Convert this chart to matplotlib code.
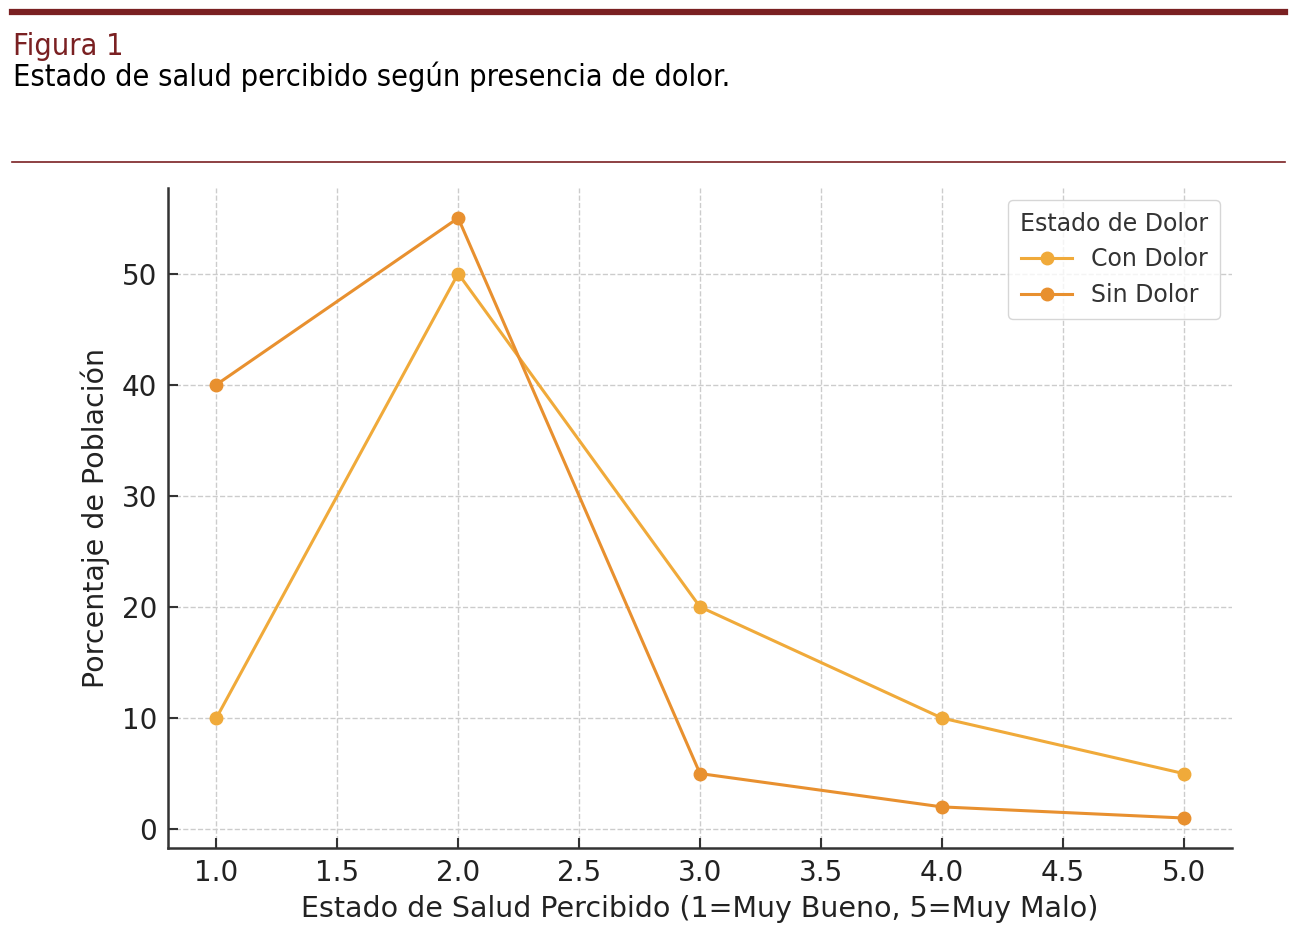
import matplotlib
matplotlib.use("Agg")
import matplotlib.pyplot as plt
from matplotlib.lines import Line2D

# datos
salud = [1, 2, 3, 4, 5]
con_dolor = [10, 50, 20, 10, 5]
sin_dolor = [40, 55, 5, 2, 1]

color_con = "#F0AA3A"
color_sin = "#E8902F"
rojo = "#7A2022"

plt.rcParams['font.family'] = ['DejaVu Sans']

fig = plt.figure(figsize=(12.96, 9.48), dpi=100)

# cabecera
fig.add_artist(Line2D([12/1296, 1285/1296], [1 - 11.5/948, 1 - 11.5/948],
                      color=rojo, linewidth=4.5))
fig.add_artist(Line2D([12/1296, 1285/1296], [1 - 162/948, 1 - 162/948],
                      color=rojo, linewidth=1.2))
fig.text(13/1296, 1 - 55/948, "Figura 1", color=rojo, fontsize=22,
         family='DejaVu Sans', fontstretch='condensed', va='baseline')
fig.text(13/1296, 1 - 86/948, "Estado de salud percibido según presencia de dolor.",
         color='black', fontsize=22, family='DejaVu Sans', fontstretch='condensed',
         va='baseline')

ax = fig.add_axes([168/1296, 100/948, (1232-168)/1296, (848-188)/948])
ax.plot(salud, con_dolor, marker='o', color=color_con, linewidth=2.2,
        markersize=9, label='Con Dolor')
ax.plot(salud, sin_dolor, marker='o', color=color_sin, linewidth=2.2,
        markersize=9, label='Sin Dolor')

ax.set_xticks([1.0, 1.5, 2.0, 2.5, 3.0, 3.5, 4.0, 4.5, 5.0])
ax.set_yticks([0, 10, 20, 30, 40, 50])
ax.grid(True, linestyle='--', color='#cccccc', linewidth=1)
ax.set_axisbelow(True)
for s in ['top', 'right']:
    ax.spines[s].set_visible(False)
for s in ['left', 'bottom']:
    ax.spines[s].set_color('#333333')
    ax.spines[s].set_linewidth(1.8)
ax.tick_params(direction='in', length=7, width=1.5, labelsize=20,
               colors='#333333', labelcolor='#222222', pad=8)

ax.set_xlabel("Estado de Salud Percibido (1=Muy Bueno, 5=Muy Malo)",
              fontsize=20.5, color='#222222', labelpad=6)
ax.set_ylabel("Porcentaje de Población", fontsize=20.5, color='#222222', labelpad=8)

leg = ax.legend(title="Estado de Dolor", loc='upper right', fontsize=17,
                title_fontsize=17, frameon=True, fancybox=True,
                borderpad=0.5, handlelength=2.2)
leg.get_frame().set_edgecolor('#cccccc')
leg.get_title().set_color('#333333')
for t in leg.get_texts():
    t.set_color('#333333')

fig.savefig("out.png", dpi=100)
